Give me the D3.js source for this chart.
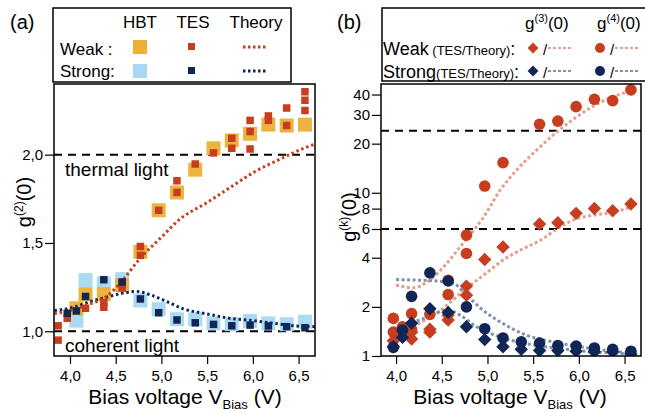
<!DOCTYPE html>
<html><head><meta charset="utf-8">
<script src="https://cdn.jsdelivr.net/npm/d3@7/dist/d3.min.js"></script>
<style>
html,body{margin:0;padding:0;background:#fff;}
svg{display:block;font-family:"Liberation Sans",Arial,Helvetica,sans-serif;}
</style></head><body>
<svg id="c" width="645" height="412"></svg>
<script>
// ---------------- DATA (panel a) ----------------
const hbtV = [4.07, 4.17, 4.37, 4.57, 4.77, 4.97, 5.17, 5.37, 5.57, 5.77, 5.97, 6.17, 6.37, 6.57];
const hbtWeak = [1.13, 1.21, 1.21, 1.26, 1.45, 1.685, 1.786, 1.915, 2.036, 2.08, 2.118, 2.17, 2.165, 2.17];
const hbtStrong = [1.06, 1.29, 1.27, 1.295, 1.174, 1.125, 1.068, 1.068, 1.045, 1.04, 1.058, 1.045, 1.04, 1.054];
const tesWeakV = [3.87, 3.87, 3.97, 4.17, 4.37, 4.37, 4.57, 4.57, 4.77, 4.77, 4.97, 5.17, 5.17, 5.37, 5.57, 5.77, 5.77, 5.97, 5.97, 5.97, 6.17, 6.17, 6.37, 6.37, 6.57, 6.57, 6.57];
const tesWeak = [1.031, 0.95, 1.074, 1.13, 1.162, 1.136, 1.245, 1.27, 1.48, 1.43, 1.685, 1.786, 1.852, 1.947, 2.01, 2.093, 2.036, 2.194, 2.131, 2.032, 2.219, 2.194, 2.264, 2.165, 2.356, 2.308, 2.25];
const tesStrongV = [3.97, 4.07, 4.17, 4.37, 4.57, 4.77, 4.97, 5.17, 5.37, 5.57, 5.77, 5.97, 6.17, 6.37, 6.57];
const tesStrong = [1.102, 1.115, 1.197, 1.292, 1.279, 1.183, 1.105, 1.064, 1.048, 1.039, 1.031, 1.035, 1.03, 1.026, 1.02];
const thWeakV = [3.83, 4.02, 4.22, 4.38, 4.55, 4.77, 4.985, 5.2, 5.5, 5.79, 6.04, 6.3, 6.52, 6.68];
const thWeak = [1.10, 1.12, 1.155, 1.19, 1.273, 1.415, 1.525, 1.634, 1.729, 1.827, 1.909, 1.975, 2.028, 2.06];
const thStrongV = [3.83, 4.04, 4.22, 4.40, 4.58, 4.73, 4.88, 5.06, 5.24, 5.50, 5.75, 6.01, 6.23, 6.45, 6.68];
const thStrong = [1.117, 1.136, 1.168, 1.193, 1.216, 1.225, 1.206, 1.168, 1.127, 1.098, 1.073, 1.06, 1.045, 1.031, 1.026];
const yTicksA = [1.0, 1.5, 2.0];
const xTicks = [4.0, 4.5, 5.0, 5.5, 6.0, 6.5];

// ---------------- DATA (panel b) ----------------
const g3WeakV = [3.97, 4.07, 4.17, 4.17, 4.37, 4.37, 4.57, 4.57, 4.77, 4.77, 4.97, 5.17, 5.57, 5.77, 5.97, 6.17, 6.37, 6.57];
const g3Weak = [1.24, 1.36, 1.27, 1.40, 1.40, 1.46, 1.66, 1.78, 2.36, 2.68, 3.9, 4.66, 6.43, 6.55, 7.48, 8.02, 7.76, 8.53];
const g4WeakV = [3.97, 3.97, 4.07, 4.17, 4.17, 4.37, 4.57, 4.57, 4.77, 4.77, 4.97, 5.17, 5.57, 5.77, 5.97, 6.17, 6.37, 6.57];
const g4Weak = [1.70, 1.40, 1.51, 1.82, 1.45, 1.80, 2.38, 2.91, 4.25, 5.5, 11.0, 15.3, 26.3, 27.5, 33.7, 37.4, 36.7, 42.7];
const strongV = [3.97, 4.07, 4.17, 4.37, 4.57, 4.77, 4.97, 5.17, 5.37, 5.57, 5.77, 5.97, 6.17, 6.37, 6.57];
const g3Strong = [1.14, 1.30, 1.59, 1.95, 1.85, 1.51, 1.26, 1.14, 1.10, 1.08, 1.08, 1.07, 1.06, 1.06, 1.03];
const g4Strong = [1.13, 1.44, 2.32, 3.23, 2.88, 2.0, 1.47, 1.29, 1.22, 1.20, 1.16, 1.15, 1.12, 1.10, 1.07];
const thG4WeakV = [4.0, 4.19, 4.34, 4.52, 4.70, 4.85, 4.95, 5.14, 5.32, 5.54, 5.76, 5.98, 6.16, 6.38, 6.58];
const thG4Weak = [2.72, 2.62, 2.84, 3.51, 4.66, 5.9, 7.0, 10.4, 13.8, 18.3, 23.6, 29.3, 34.0, 38.9, 42.2];
const thG3WeakV = [4.0, 4.19, 4.37, 4.51, 4.66, 4.77, 4.98, 5.17, 5.36, 5.58, 5.80, 5.98, 6.17, 6.39, 6.58];
const thG3Weak = [1.47, 1.54, 1.72, 1.95, 2.30, 2.6, 3.2, 3.87, 4.45, 5.12, 6.2, 6.95, 7.3, 7.64, 8.2];
const thG3StrongV = [4.0, 4.34, 4.56, 4.70, 4.88, 5.13, 5.42, 5.80, 6.16, 6.58];
const thG3Strong = [1.47, 1.73, 1.91, 1.78, 1.51, 1.31, 1.19, 1.11, 1.06, 1.03];
const thG4StrongV = [4.0, 4.19, 4.45, 4.63, 4.77, 4.95, 5.17, 5.43, 5.72, 6.01, 6.30, 6.58];
const thG4Strong = [2.94, 2.92, 2.88, 2.78, 2.36, 1.91, 1.58, 1.34, 1.22, 1.14, 1.08, 1.04];
const yTicksB = [1, 2, 4, 6, 8, 10, 20, 30, 40];
const yMinorB = [5, 7, 9];

// ---------------- STYLE ----------------
const C = {orange:"#EBB034", lblue:"#A7D9F2", red:"#C73D1F", navy:"#0F2657", salmon:"#E59F8E", grayblue:"#8191AE"};
const svg = d3.select("#c");
const fmt = d => d3.format(".1f")(d).replace(".", ",");
const zip = (a, b) => a.map((v, i) => [v, b[i]]);

// ---------------- PANEL A ----------------
const A = {l:54, r:315, t:84, b:356};
const xa = d3.scaleLinear().domain([3.825, 6.68]).range([A.l, A.r]);
const ya = d3.scaleLinear().domain([0.86, 2.40]).range([A.b, A.t]);
const ga = svg.append("g");
ga.append("clipPath").attr("id","clipA").append("rect").attr("x",A.l).attr("y",A.t).attr("width",A.r-A.l).attr("height",A.b-A.t);

[2.0, 1.0].forEach(v => ga.append("line").attr("x1",A.l).attr("x2",A.r).attr("y1",ya(v)).attr("y2",ya(v))
  .attr("stroke","#000").attr("stroke-width",2).attr("stroke-dasharray","8,6"));
ga.append("text").attr("x",65).attr("y",176).attr("font-size",19).text("thermal light");
ga.append("text").attr("x",65).attr("y",352).attr("font-size",19).text("coherent light");

const pa = ga.append("g").attr("clip-path","url(#clipA)");
const sqA = (data, size, fill, op) => pa.append("g").selectAll("rect").data(data).join("rect")
  .attr("x", d => xa(d[0]) - size/2).attr("y", d => ya(d[1]) - size/2)
  .attr("width", size).attr("height", size).attr("fill", fill).attr("fill-opacity", op||1);
sqA(zip(hbtV, hbtStrong), 14, C.lblue, 0.95);
sqA(zip(hbtV, hbtWeak), 14, C.orange, 0.95);
const lineA = d3.line().x(d => xa(d[0])).y(d => ya(d[1])).curve(d3.curveMonotoneX);
pa.append("path").attr("d", lineA(zip(thStrongV, thStrong))).attr("fill","none").attr("stroke",C.navy)
  .attr("stroke-width",3).attr("stroke-dasharray","2.5,2.8");
pa.append("path").attr("d", lineA(zip(thWeakV, thWeak))).attr("fill","none").attr("stroke",C.red)
  .attr("stroke-width",3).attr("stroke-dasharray","2.5,2.8");
sqA(zip(tesWeakV, tesWeak), 7.5, C.red);
sqA(zip(tesStrongV, tesStrong), 7.5, C.navy);

ga.append("rect").attr("x",A.l).attr("y",A.t).attr("width",A.r-A.l).attr("height",A.b-A.t)
  .attr("fill","none").attr("stroke","#000").attr("stroke-width",1.5);

const xAxA = ga.append("g").attr("transform",`translate(0,${A.b})`);
xAxA.call(d3.axisBottom(xa).tickValues(d3.range(4.0, 6.51, 0.25)).tickSize(5).tickFormat(""));
xAxA.call(d3.axisBottom(xa).tickValues(xTicks).tickSize(8).tickFormat(fmt).tickPadding(6));
const yAxA = ga.append("g").attr("transform",`translate(${A.l},0)`);
yAxA.call(d3.axisLeft(ya).tickValues(d3.range(0.9, 2.35, 0.1)).tickSize(5).tickFormat(""));
yAxA.call(d3.axisLeft(ya).tickValues(yTicksA).tickSize(9).tickFormat(fmt).tickPadding(2));

// ---------------- PANEL B ----------------
const B = {l:381, r:641, t:84, b:356};
const xb = d3.scaleLinear().domain([3.835, 6.68]).range([B.l, B.r]);
const yb = d3.scaleLog().domain([1, 46.4]).range([B.b, B.t]);
const gb = svg.append("g");
gb.append("clipPath").attr("id","clipB").append("rect").attr("x",B.l).attr("y",B.t).attr("width",B.r-B.l).attr("height",B.b-B.t);
[24, 6].forEach(v => gb.append("line").attr("x1",B.l).attr("x2",B.r).attr("y1",yb(v)).attr("y2",yb(v))
  .attr("stroke","#000").attr("stroke-width",2).attr("stroke-dasharray","8,6"));
const pb = gb.append("g").attr("clip-path","url(#clipB)");
const lineB = d3.line().x(d => xb(d[0])).y(d => yb(d[1])).curve(d3.curveMonotoneX);
[[thG4WeakV, thG4Weak, C.salmon],[thG3WeakV, thG3Weak, C.salmon],[thG4StrongV, thG4Strong, C.grayblue],[thG3StrongV, thG3Strong, C.grayblue]]
  .forEach(([v, g, c]) => pb.append("path").attr("d", lineB(zip(v, g))).attr("fill","none").attr("stroke",c)
    .attr("stroke-width",3).attr("stroke-dasharray","3,2.5"));
const diamond = d3.symbol().type(d3.symbolDiamond2).size(115);
const circ = (data, fill) => pb.append("g").selectAll("circle").data(data).join("circle")
  .attr("cx", d => xb(d[0])).attr("cy", d => yb(d[1])).attr("r", 5.8).attr("fill", fill);
const dia = (data, fill) => pb.append("g").selectAll("path").data(data).join("path")
  .attr("transform", d => `translate(${xb(d[0])},${yb(d[1])})`).attr("d", diamond).attr("fill", fill);
circ(zip(g4WeakV, g4Weak), C.red);
dia(zip(g3WeakV, g3Weak), C.red);
circ(zip(strongV, g4Strong), C.navy);
dia(zip(strongV, g3Strong), C.navy);

gb.append("rect").attr("x",B.l).attr("y",B.t).attr("width",B.r-B.l).attr("height",B.b-B.t)
  .attr("fill","none").attr("stroke","#000").attr("stroke-width",1.5);
const xAxB = gb.append("g").attr("transform",`translate(0,${B.b})`);
xAxB.call(d3.axisBottom(xb).tickValues(d3.range(4.0, 6.51, 0.25)).tickSize(5).tickFormat(""));
xAxB.call(d3.axisBottom(xb).tickValues(xTicks).tickSize(8).tickFormat(fmt).tickPadding(6));
const yAxB = gb.append("g").attr("transform",`translate(${B.l},0)`);
yAxB.call(d3.axisLeft(yb).tickValues(yMinorB).tickSize(5).tickFormat(""));
yAxB.call(d3.axisLeft(yb).tickValues(yTicksB).tickSize(9).tickFormat(d3.format("d")).tickPadding(2));

svg.selectAll(".domain").remove();
svg.selectAll(".tick text").attr("font-size",15).attr("fill","#000").attr("font-family",'"Liberation Sans",Arial,sans-serif');
svg.selectAll(".tick line").attr("stroke","#000").attr("stroke-width",1.2);

// ---------------- AXIS TITLES ----------------
function xTitle(cx) {
  const t = svg.append("text").attr("x",cx).attr("y",404).attr("font-size",21).attr("text-anchor","middle");
  t.append("tspan").text("Bias voltage V");
  t.append("tspan").attr("font-size",13).attr("dy",5).text("Bias");
  t.append("tspan").attr("dy",-5).text(" (V)");
}
xTitle(185); xTitle(510);
function yTitle(x, y, sup) {
  const t = svg.append("text").attr("transform",`translate(${x},${y}) rotate(-90)`).attr("font-size",20).attr("text-anchor","middle");
  t.append("tspan").text("g");
  t.append("tspan").attr("font-size",12).attr("dy",-8).text(sup);
  t.append("tspan").attr("dy",8).text("(0)");
}
yTitle(31, 202, "(2)");
yTitle(356, 217, "(k)");

// ---------------- LEGEND A ----------------
svg.append("text").attr("x",10).attr("y",29).attr("font-size",20).text("(a)");
svg.append("rect").attr("x",53).attr("y",8).attr("width",238).attr("height",74).attr("fill","#fff").attr("stroke","#000").attr("stroke-width",1.5);
[["HBT",140],["TES",193],["Theory",256]].forEach(([s,x]) => svg.append("text").attr("x",x).attr("y",28).attr("font-size",17).attr("text-anchor","middle").text(s));
svg.append("text").attr("x",60).attr("y",55).attr("font-size",17).text("Weak :");
svg.append("text").attr("x",60).attr("y",77).attr("font-size",17).text("Strong:");
const legA = [[47, C.orange, C.red], [71, C.lblue, C.navy]];
legA.forEach(([y, big, small]) => {
  svg.append("rect").attr("x",133).attr("y",y-7).attr("width",14).attr("height",14).attr("fill",big);
  svg.append("rect").attr("x",188).attr("y",y-4).attr("width",7).attr("height",7).attr("fill",small);
  svg.append("line").attr("x1",243).attr("x2",268).attr("y1",y).attr("y2",y).attr("stroke",small).attr("stroke-width",3).attr("stroke-dasharray","2.5,2.5");
});

// ---------------- LEGEND B ----------------
svg.append("text").attr("x",337).attr("y",29).attr("font-size",20).text("(b)");
svg.append("path").attr("d","M650,8 H382 V81 H650").attr("fill","#fff").attr("stroke","#000").attr("stroke-width",1.5);
function gHead(x, sup) {
  const t = svg.append("text").attr("x",x).attr("y",29).attr("font-size",17);
  t.append("tspan").text("g");
  t.append("tspan").attr("font-size",11).attr("dy",-7).text(sup);
  t.append("tspan").attr("dy",7).text("(0)");
}
gHead(525, "(3)"); gHead(597, "(4)");
function legRow(y, label, col, th) {
  const t = svg.append("text").attr("x",383).attr("y",y).attr("font-size",18);
  t.append("tspan").text(label);
  t.append("tspan").attr("font-size",13).text(label === "Weak" ? " (TES/Theory)" : "(TES/Theory)");
  t.append("tspan").text(":");
  const cy = y - 7;
  svg.append("path").attr("transform",`translate(533,${cy})`).attr("d", d3.symbol().type(d3.symbolDiamond2).size(75)).attr("fill",col);
  svg.append("circle").attr("cx",600).attr("cy",cy).attr("r",5).attr("fill",col);
  [543, 610].forEach(x => {
    svg.append("text").attr("x",x).attr("y",y).attr("font-size",15).text("/");
    svg.append("line").attr("x1",x+5).attr("x2",x+28).attr("y1",cy).attr("y2",cy).attr("stroke",th).attr("stroke-width",2.2).attr("stroke-dasharray","3,2");
  });
}
legRow(55, "Weak", C.red, C.salmon);
legRow(78, "Strong", C.navy, C.grayblue);
</script>
</body></html>
